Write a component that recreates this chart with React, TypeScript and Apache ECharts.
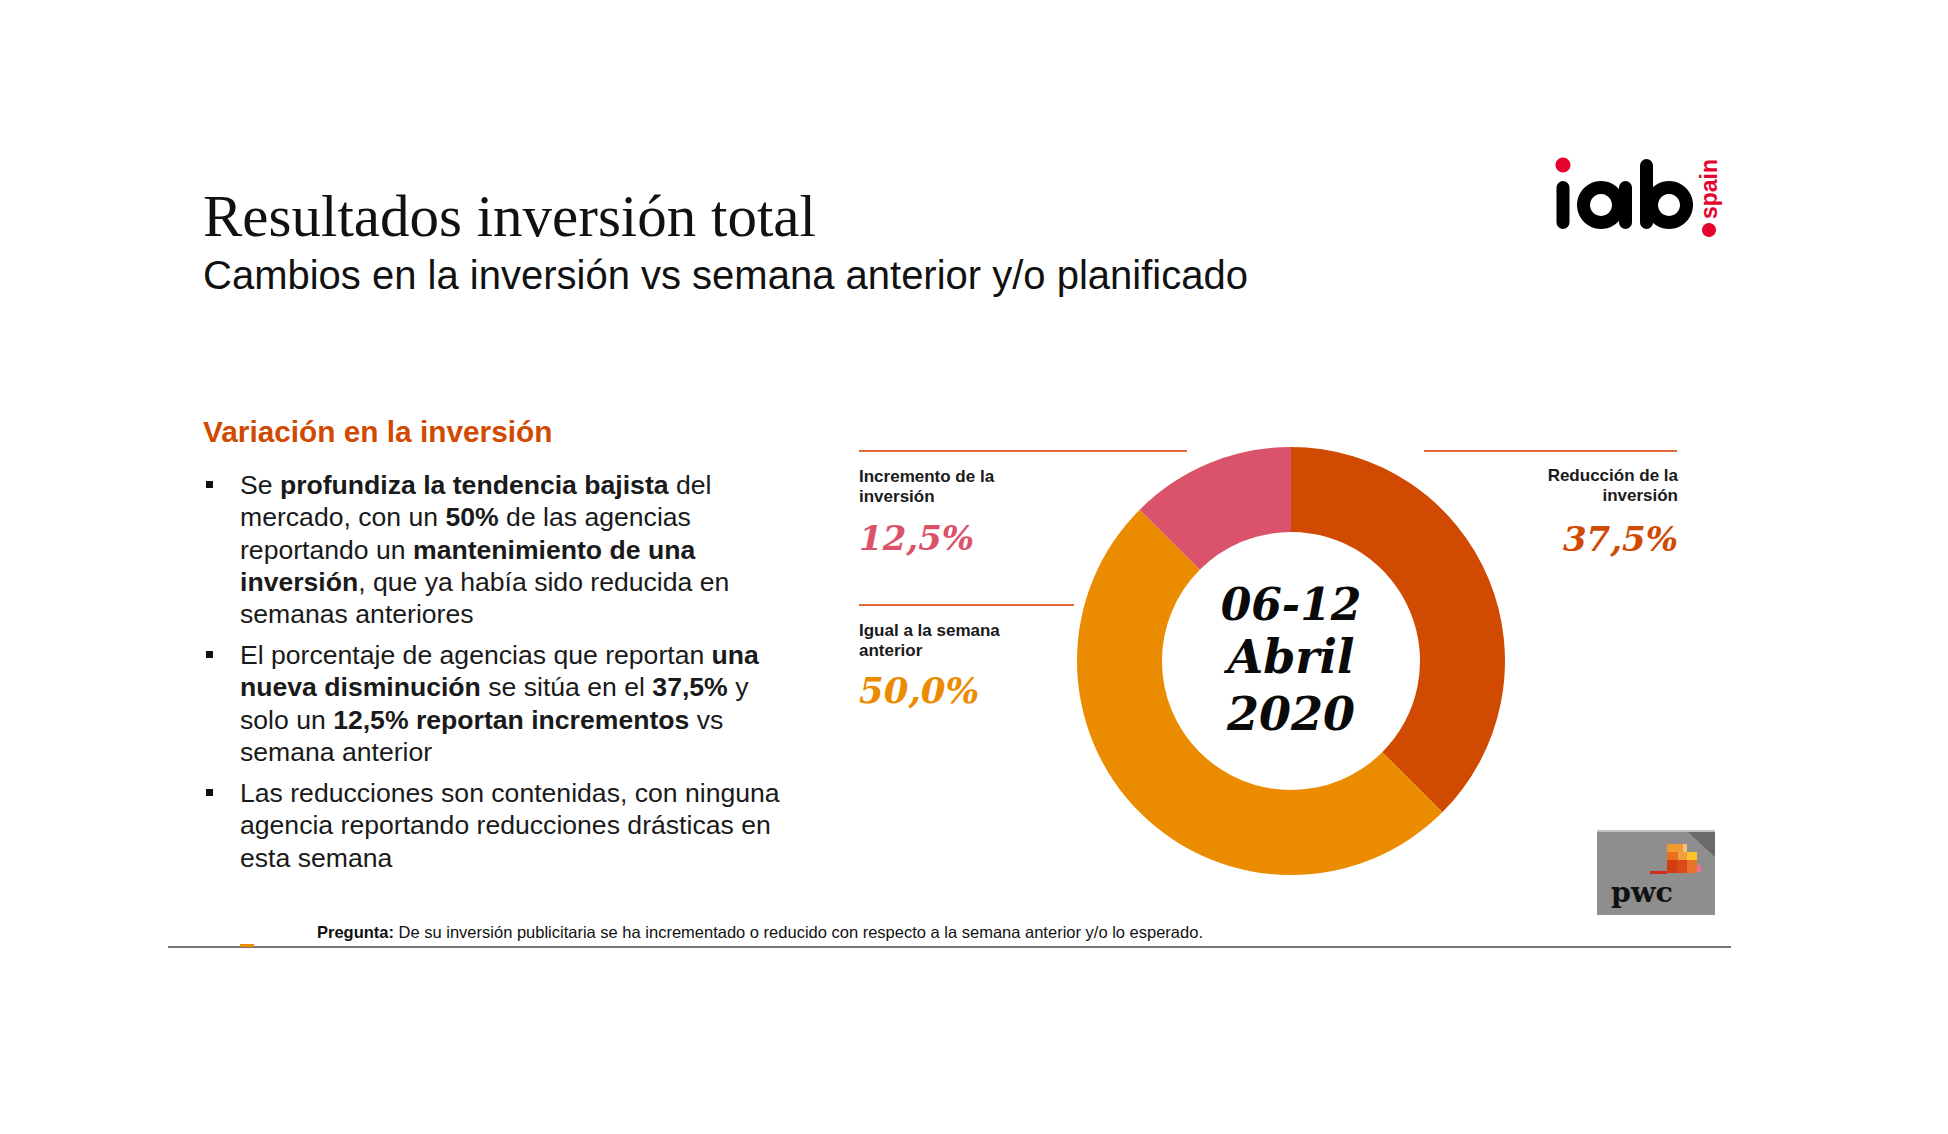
import React, { useEffect, useRef } from 'react';
import * as echarts from 'echarts';

// ---------- DATA ----------
const categories = ['Reducción de la inversión', 'Igual a la semana anterior', 'Incremento de la inversión'];
const values = [37.5, 50.0, 12.5];
const sliceColors = ['#D04A02', '#EB8C00', '#DB536A'];
const labelLines = [
  ['Reducción de la', 'inversión'],
  ['Igual a la semana', 'anterior'],
  ['Incremento de la', 'inversión'],
];
const centerLines = ['06-12', 'Abril', '2020'];

const titleText = 'Resultados inversión total';
const subtitleText = 'Cambios en la inversión vs semana anterior y/o planificado';
const sectionText = 'Variación en la inversión';

type Seg = [string, boolean];
const bullet1: Seg[][] = [
  [['Se ', false], ['profundiza la tendencia bajista', true], [' del', false]],
  [['mercado, con un ', false], ['50%', true], [' de las agencias', false]],
  [['reportando un ', false], ['mantenimiento de una', true]],
  [['inversión', true], [', que ya había sido reducida en', false]],
  [['semanas anteriores', false]],
];
const bullet2: Seg[][] = [
  [['El porcentaje de agencias que reportan ', false], ['una', true]],
  [['nueva disminución', true], [' se sitúa en el ', false], ['37,5%', true], [' y', false]],
  [['solo un ', false], ['12,5% reportan incrementos', true], [' vs', false]],
  [['semana anterior', false]],
];
const bullet3: Seg[][] = [
  [['Las reducciones son contenidas, con ninguna', false]],
  [['agencia reportando reducciones drásticas en', false]],
  [['esta semana', false]],
];
const bullets = [bullet1, bullet2, bullet3];
const footnote: Seg[] = [['Pregunta:', true], [' De su inversión publicitaria se ha incrementado o reducido con respecto a la semana anterior y/o lo esperado.', false]];

// ---------- LAYOUT ----------
const CX = 1291;
const CY = 661;
const SANS = '"Liberation Sans", Arial, sans-serif';
const SERIF = '"Liberation Serif", "Times New Roman", serif';
const DSERIF = '"DejaVu Serif", Georgia, serif';
const LINE_ORANGE = '#E2683A';

const fmt = (v: number) => v.toFixed(1).replace('.', ',') + '%';

function richText(segs: Seg[]) {
  return segs.map(([t, b]) => `{${b ? 'b' : 'n'}|${t}}`).join('');
}

export default function App() {
  const ref = useRef<HTMLDivElement>(null);

  useEffect(() => {
    if (!ref.current) return;
    const chart = echarts.init(ref.current, null, { renderer: 'svg' });

    const g: any[] = [];

    // Title & subtitle
    g.push({ type: 'text', x: 203, y: 216, style: { text: titleText, font: `59px ${SERIF}`, fill: '#111', verticalAlign: 'middle' } });
    g.push({ type: 'text', x: 203, y: 275, style: { text: subtitleText, font: `40px ${SANS}`, fill: '#111', verticalAlign: 'middle' } });

    // Section heading
    g.push({ type: 'text', x: 203, y: 431, style: { text: sectionText, font: `bold 29.8px ${SANS}`, fill: '#D04A02', verticalAlign: 'middle' } });

    // Bullets
    const FS = 26.6;
    const lineH = 32.3;
    const starts = [485, 655, 793];
    const richBody = {
      n: { fontFamily: 'Liberation Sans, Arial, sans-serif', fontSize: FS, fill: '#1a1a1a' },
      b: { fontFamily: 'Liberation Sans, Arial, sans-serif', fontSize: FS, fontWeight: 'bold', fill: '#1a1a1a' },
    };
    bullets.forEach((lines, bi) => {
      g.push({ type: 'rect', shape: { x: 206, y: starts[bi] - 4, width: 7, height: 7 }, style: { fill: '#111' } });
      lines.forEach((segs, li) => {
        g.push({
          type: 'text', x: 240, y: starts[bi] + li * lineH,
          style: { text: richText(segs), rich: richBody, verticalAlign: 'middle', font: `${FS}px ${SANS}` },
        });
      });
    });

    // Footnote
    g.push({
      type: 'text', x: 317, y: 932,
      style: {
        text: richText(footnote), verticalAlign: 'middle', font: `16.5px ${SANS}`,
        rich: {
          n: { fontFamily: 'Liberation Sans, Arial, sans-serif', fontSize: 16.5, fill: '#111' },
          b: { fontFamily: 'Liberation Sans, Arial, sans-serif', fontSize: 16.5, fontWeight: 'bold', fill: '#111' },
        },
      },
    });
    // Bottom rule
    g.push({ type: 'line', shape: { x1: 168, y1: 947, x2: 1731, y2: 947 }, style: { stroke: '#4a4a4a', lineWidth: 1.5 } });
    g.push({ type: 'rect', shape: { x: 240, y: 944, width: 14, height: 3 }, style: { fill: '#EB8C00' } });

    // Donut labels
    // Reducción (right)
    g.push({ type: 'line', shape: { x1: 1424, y1: 451, x2: 1677, y2: 451 }, style: { stroke: LINE_ORANGE, lineWidth: 2 } });
    labelLines[0].forEach((t, i) => {
      g.push({ type: 'text', x: 1678, y: 475 + i * 20.5, style: { text: t, font: `bold 17px ${SANS}`, fill: '#1a1a1a', align: 'right', verticalAlign: 'middle' } });
    });
    g.push({ type: 'text', x: 1678, y: 539, style: { text: fmt(values[0]), font: `italic bold 34px ${DSERIF}`, fill: sliceColors[0], align: 'right', verticalAlign: 'middle' } });

    // Incremento (left top)
    g.push({ type: 'line', shape: { x1: 859, y1: 451, x2: 1187, y2: 451 }, style: { stroke: LINE_ORANGE, lineWidth: 2 } });
    labelLines[2].forEach((t, i) => {
      g.push({ type: 'text', x: 859, y: 476 + i * 20.5, style: { text: t, font: `bold 17px ${SANS}`, fill: '#1a1a1a', verticalAlign: 'middle' } });
    });
    g.push({ type: 'text', x: 859, y: 538, style: { text: fmt(values[2]), font: `italic bold 34px ${DSERIF}`, fill: sliceColors[2], verticalAlign: 'middle' } });

    // Igual (left middle)
    g.push({ type: 'line', shape: { x1: 859, y1: 605, x2: 1074, y2: 605 }, style: { stroke: LINE_ORANGE, lineWidth: 2 } });
    labelLines[1].forEach((t, i) => {
      g.push({ type: 'text', x: 859, y: 630 + i * 20.5, style: { text: t, font: `bold 17px ${SANS}`, fill: '#1a1a1a', verticalAlign: 'middle' } });
    });
    g.push({ type: 'text', x: 859, y: 690, style: { text: fmt(values[1]), font: `italic bold 35.5px ${DSERIF}`, fill: sliceColors[1], verticalAlign: 'middle' } });

    // Center text
    const cys = [604, 657, 714];
    centerLines.forEach((t, i) => {
      g.push({ type: 'text', x: CX, y: cys[i], style: { text: t, font: `italic bold ${i === 0 ? 44 : 46}px ${DSERIF}`, fill: '#0a0a0a', align: 'center', verticalAlign: 'middle' } });
    });

    // iab logo
    const RED = '#E4032E';
    g.push({ type: 'circle', shape: { cx: 1563, cy: 165, r: 7.5 }, style: { fill: RED } });
    g.push({ type: 'rect', shape: { x: 1556.5, y: 181, width: 13, height: 48, r: 6.5 }, style: { fill: '#000' } });
    g.push({ type: 'ring', shape: { cx: 1601, cy: 205, r: 24, r0: 11 }, style: { fill: '#000' } });
    g.push({ type: 'rect', shape: { x: 1619, y: 181, width: 13, height: 48, r: 6.5 }, style: { fill: '#000' } });
    g.push({ type: 'rect', shape: { x: 1640, y: 159, width: 13, height: 70, r: 6.5 }, style: { fill: '#000' } });
    g.push({ type: 'ring', shape: { cx: 1669, cy: 205, r: 24, r0: 11 }, style: { fill: '#000' } });
    g.push({ type: 'text', x: 1709, y: 189, rotation: Math.PI / 2, style: { text: 'spain', font: `bold 23px ${SANS}`, fill: RED, align: 'center', verticalAlign: 'middle' } });
    g.push({ type: 'circle', shape: { cx: 1709, cy: 230, r: 7 }, style: { fill: RED } });

    // pwc logo
    g.push({ type: 'rect', shape: { x: 1597, y: 830, width: 118, height: 85 }, style: { fill: '#8E8E8E' } });
    g.push({ type: 'rect', shape: { x: 1597, y: 830, width: 118, height: 2 }, style: { fill: '#C4C4C4' } });
    g.push({ type: 'polygon', shape: { points: [[1688, 832], [1715, 832], [1715, 857]] }, style: { fill: '#6A6A6A' } });
    const tiles = [
      [1667, 844, 16, 8, '#F39A2D'], [1683, 844, 4, 8, '#F6C08A'],
      [1667, 852, 11, 8, '#E8701E'], [1678, 852, 9, 8, '#F0A040'], [1687, 852, 10, 8, '#FFC32A'],
      [1667, 860, 10, 13, '#D23C0F'], [1677, 860, 10, 13, '#DD4A18'], [1687, 860, 10, 13, '#E8742C'],
      [1697, 865, 4, 7, '#F07090'], [1650, 871, 17, 3, '#D0301E'],
    ];
    tiles.forEach(([x, y, w, h, c]) => {
      g.push({ type: 'rect', shape: { x, y, width: w, height: h }, style: { fill: c } });
    });
    g.push({ type: 'text', x: 1611, y: 892, style: { text: 'pwc', font: `bold 28.5px ${DSERIF}`, fill: '#111', verticalAlign: 'middle' } });

    chart.setOption({
      animation: false,
      backgroundColor: '#ffffff',
      series: [{
        type: 'pie',
        center: [CX, CY],
        radius: [129, 214],
        startAngle: 90,
        clockwise: true,
        silent: true,
        label: { show: false },
        labelLine: { show: false },
        itemStyle: { borderWidth: 0 },
        emphasis: { disabled: true },
        data: categories.map((c, i) => ({ name: c, value: values[i], itemStyle: { color: sliceColors[i] } })),
      }],
      graphic: { elements: g },
    });

    return () => chart.dispose();
  }, []);

  return <div ref={ref} style={{ position: 'absolute', left: 0, top: 0, width: 1948, height: 1134, background: '#fff' }} />;
}
